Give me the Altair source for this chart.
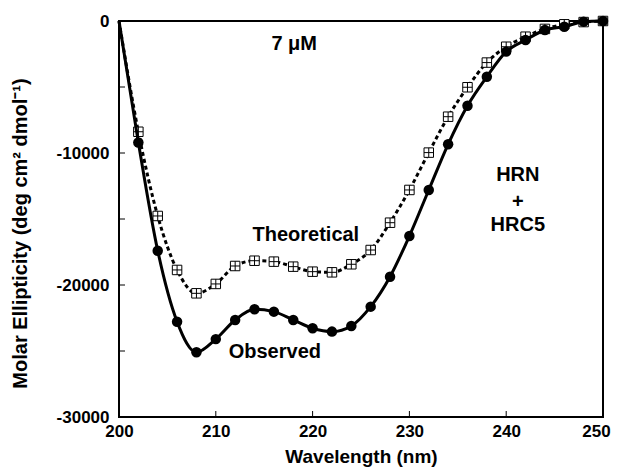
import altair as alt
import pandas as pd

wavelength = [200, 202, 204, 206, 208, 210, 212, 214, 216, 218, 220, 222, 224,
              226, 228, 230, 232, 234, 236, 238, 240, 242, 244, 246, 248, 250]
observed = [0, -9200, -17400, -22780, -25100, -24100, -22650, -21840, -22020,
            -22650, -23280, -23530, -23100, -21640, -19370, -16290, -12800,
            -9340, -6420, -4220, -2320, -1440, -680, -430, -50, 0]
theoretical = [0, -8390, -14770, -18860, -20630, -19920, -18560, -18160, -18230,
               -18610, -18990, -19040, -18430, -17350, -15280, -12800, -9970,
               -7250, -5020, -3150, -1950, -1190, -600, -250, -80, 0]

y_ticks = [-5000, -10000, -15000, -20000, -25000]
x_ticks = [210, 220, 230, 240]
y_labels = [0, -10000, -20000, -30000]
x_labels = [200, 210, 220, 230, 240, 250]

ann_text = ["7 \u03bcM", "Theoretical", "Observed", "HRN", "+", "HRC5"]
ann_x = [218.1, 219.3, 216.1, 241.2, 241.2, 241.2]
ann_y = [-1740, -16210, -25080, -11630, -13710, -15420]

FONT = "Liberation Sans"

df_obs = pd.DataFrame({"w": wavelength, "v": observed})
df_th = pd.DataFrame({"w": wavelength, "v": theoretical})
df_yt = pd.DataFrame({"v": y_ticks})
df_xt = pd.DataFrame({"w": x_ticks})
df_ann = pd.DataFrame({"t": ann_text, "w": ann_x, "v": ann_y})

xscale = alt.Scale(domain=[200, 250], nice=False, zero=False)
yscale = alt.Scale(domain=[-30000, 0], nice=False, zero=False)

xaxis = alt.Axis(values=x_labels, title="Wavelength (nm)", tickSize=0,
                 labelPadding=6, domain=False, grid=False, labelFlush=False,
                 labelOffset=alt.ExprRef(expr="datum.value == 250 ? -7 : 0"),
                 labelFont=FONT, labelFontSize=17, labelFontWeight="bold", labelColor="black",
                 titleFont=FONT, titleFontSize=19, titleFontWeight="bold", titleColor="black",
                 titleX=242, titleY=45, titleBaseline="alphabetic", titleAlign="center")
yaxis = alt.Axis(values=y_labels, title="Molar Ellipticity (deg cm\u00b2 dmol\u207b\u00b9)",
                 tickSize=0, labelPadding=10, domain=False, grid=False, labelFlush=False,
                 labelExpr="toString(datum.value)",
                 labelFont=FONT, labelFontSize=17, labelFontWeight="bold", labelColor="black",
                 titleFont=FONT, titleFontSize=20, titleFontWeight="bold", titleColor="black",
                 titleX=-99, titleY=212, titleBaseline="middle", titleAlign="center")

X = alt.X("w:Q", scale=xscale, axis=xaxis)
Y = alt.Y("v:Q", scale=yscale, axis=yaxis)

square_path = "M-1,-1H1V1H-1Z M0,-1V1 M-1,0H1"

th_line = alt.Chart(df_th).mark_line(color="black", strokeWidth=3,
                                     strokeDash=[4, 3], interpolate="monotone").encode(x=X, y=Y)
th_pts = alt.Chart(df_th).transform_filter("datum.w > 200").mark_point(
    shape=square_path, size=90, filled=False, fill="white", fillOpacity=1,
    stroke="black", strokeWidth=1, opacity=1).encode(x=X, y=Y)
obs_line = alt.Chart(df_obs).mark_line(color="black", strokeWidth=3,
                                       interpolate="monotone").encode(x=X, y=Y)
obs_pts = alt.Chart(df_obs).transform_filter("datum.w > 200").mark_circle(
    size=110, color="black", opacity=1).encode(x=X, y=Y)

ytick_rules = alt.Chart(df_yt).mark_rule(color="black", strokeWidth=1).encode(
    y=Y, x=alt.value(0), x2=alt.value(6))
xtick_rules = alt.Chart(df_xt).mark_rule(color="black", strokeWidth=1).encode(
    x=X, y=alt.value(396), y2=alt.value(390))

ann = alt.Chart(df_ann).mark_text(font=FONT, fontSize=20, fontWeight="bold",
                                  color="black", align="center", baseline="middle").encode(
    x=X, y=Y, text="t:N")

chart = alt.layer(th_line, th_pts, obs_line, obs_pts, ytick_rules, xtick_rules, ann).properties(
    width=484, height=396,
    background="white",
    autosize=alt.AutoSizeParams(type="none"),
    padding={"left": 111, "top": 13, "right": 8, "bottom": 50},
).configure_view(stroke="black", strokeWidth=2)

chart.save("out.html", embed_options={"renderer": "svg", "actions": False})
